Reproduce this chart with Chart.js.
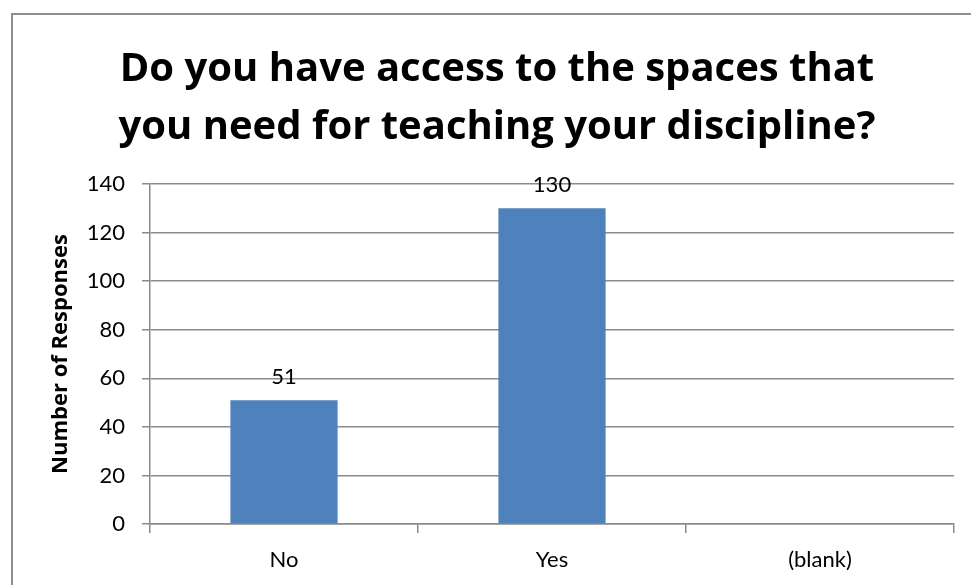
<!DOCTYPE html>
<html>
<head>
<meta charset="utf-8">
<script src="https://cdn.jsdelivr.net/npm/chart.js@4.4.0/dist/chart.umd.min.js"></script>
<style>
  body { margin: 0; background: #fff; overflow: hidden; }
  #frame {
    position: absolute; left: 11px; top: 13px; width: 1000px; height: 620px;
    border: 2px solid #8e8e8e; box-sizing: border-box;
  }
  #chart { position: absolute; left: 0; top: 0; }
</style>
</head>
<body>
<div id="frame"></div>
<canvas id="chart" width="971" height="585"></canvas>
<script>
  // survey answers
  const categories = ["No", "Yes", "(blank)"];
  const responses = [51, 130, null];
  const yTicks = [0, 20, 40, 60, 80, 100, 120, 140];
  const titleLines = ["Do you have access to the spaces that", "you need for teaching your discipline?"];

  const barColor = "#4f81bd";
  const gridColor = "#8a8a8a";

  // numbers above the bars
  const valueLabels = {
    id: "valueLabels",
    afterDatasetsDraw(chart) {
      const ctx = chart.ctx;
      const meta = chart.getDatasetMeta(0);
      ctx.save();
      ctx.font = "22px Lato";
      ctx.fillStyle = "#000";
      ctx.textAlign = "center";
      ctx.textBaseline = "middle";
      meta.data.forEach((bar, i) => {
        if (responses[i] == null) return;
        ctx.fillText(String(responses[i]), bar.x, bar.y - 23);
      });
      ctx.restore();
    }
  };

  new Chart(document.getElementById("chart"), {
    type: "bar",
    data: {
      labels: categories,
      datasets: [{
        data: responses,
        backgroundColor: barColor,
        barPercentage: 0.4,
        categoryPercentage: 1
      }]
    },
    options: {
      responsive: false,
      animation: false,
      layout: { padding: { left: 40, right: 17, top: 0, bottom: 0 } },
      plugins: {
        legend: { display: false },
        tooltip: { enabled: false },
        title: {
          display: true,
          text: titleLines,
          color: "#000",
          font: { family: "Open Sans", size: 40, weight: "bold", lineHeight: "58px" },
          padding: { top: 41, bottom: 27 }
        }
      },
      scales: {
        x: {
          afterFit: (s) => { s.height = 61; },
          grid: { display: true, drawOnChartArea: false, drawTicks: true, tickLength: 9, color: gridColor, lineWidth: 1.5, offset: true },
          border: { display: true, color: gridColor, width: 1.5 },
          ticks: { color: "#000", font: { family: "Lato", size: 22 }, padding: 14 }
        },
        y: {
          min: 0,
          max: 140,
          afterFit: (s) => { s.width = 110; },
          afterBuildTicks: (s) => { s.ticks = yTicks.map(v => ({ value: v })); },
          title: {
            display: true,
            text: "Number of Responses",
            color: "#000",
            font: { family: "Open Sans", size: 22, weight: "bold", lineHeight: 1.2 },
            padding: { top: 8, bottom: 0 }
          },
          grid: { color: gridColor, lineWidth: 1.5, tickLength: 8 },
          border: { display: true, color: gridColor, width: 1.5 },
          ticks: { color: "#000", font: { family: "Lato", size: 22 }, padding: 17 }
        }
      }
    },
    plugins: [valueLabels]
  });
</script>
</body>
</html>
